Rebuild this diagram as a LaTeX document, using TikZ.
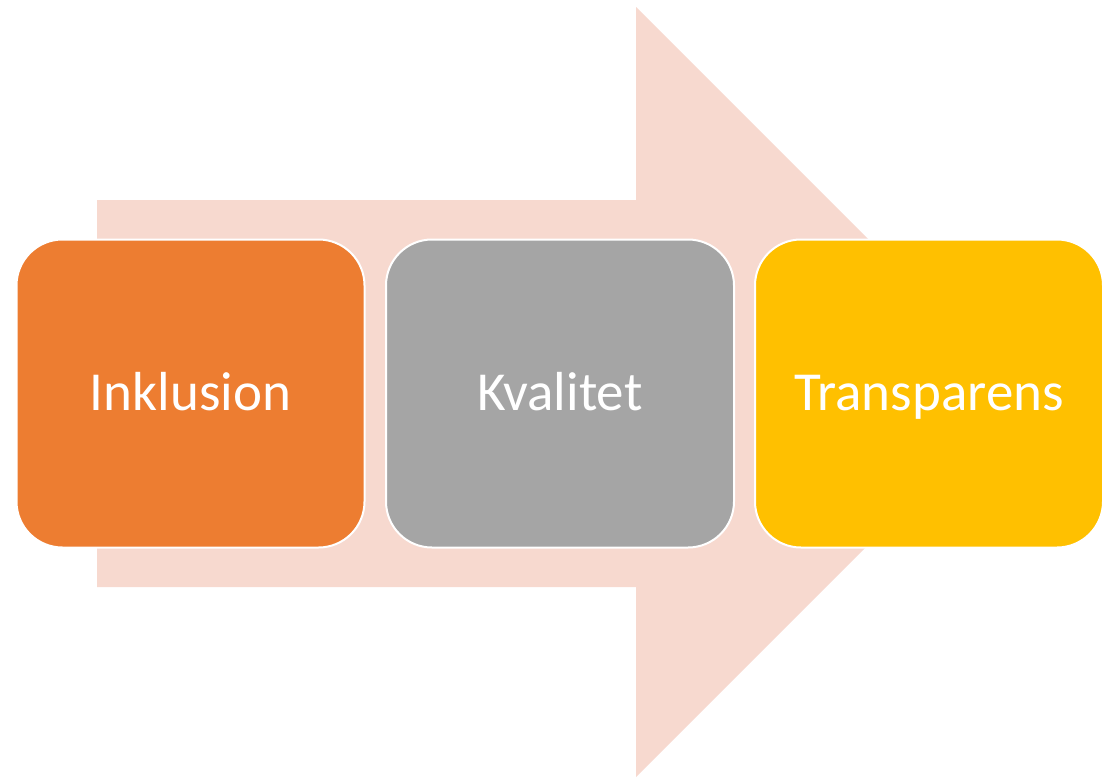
\documentclass[tikz,border=0pt]{standalone}
\usepackage{fontspec}
\setmainfont{Carlito}
\definecolor{arrowfill}{HTML}{F7D9CF}
\definecolor{orangefill}{HTML}{ED7D31}
\definecolor{grayfill}{HTML}{A5A5A5}
\definecolor{yellowfill}{HTML}{FFC000}
\tikzset{
  stepbox/.style={draw=white, line width=2pt, rounded corners=46pt, minimum width=348pt, minimum height=308pt, inner sep=0pt, text=white, font=\fontsize{55}{66}\selectfont, text height=40pt, text depth=7pt, anchor=center},
}
\begin{document}
\begin{tikzpicture}[x=1pt,y=-1pt]
\useasboundingbox (0,0) rectangle (1109,777);
\fill[arrowfill] (97,200) -- (636,200) -- (636,7) -- (1021,392) -- (636,777) -- (636,587) -- (97,587) -- cycle;
\node[stepbox, fill=orangefill] (a) at (190.5,393.5) {Inklusion};
\node[stepbox, fill=grayfill] (b) at (560,393.5) {Kvalitet};
\node[stepbox, fill=yellowfill] (c) at (929,393.5) {Transparens};
\end{tikzpicture}
\end{document}
